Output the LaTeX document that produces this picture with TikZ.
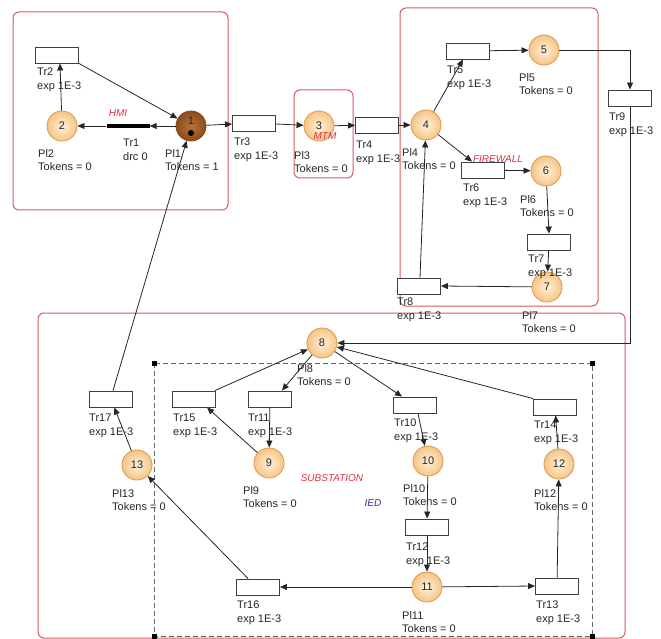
\documentclass[tikz,border=0pt]{standalone}
\usepackage{fontspec}
\setmainfont{Liberation Sans}
\usetikzlibrary{arrows.meta}
\definecolor{boxred}{HTML}{D65A5E}
\definecolor{zred}{HTML}{E0303F}
\definecolor{zblue}{HTML}{3030A0}
\definecolor{placein}{HTML}{FFF1DA}
\definecolor{placeout}{HTML}{F6C486}
\definecolor{placeborder}{HTML}{DC9E50}
\definecolor{darkin}{HTML}{B8733A}
\definecolor{darkout}{HTML}{8A4C1E}
\definecolor{txt}{HTML}{262626}
\begin{document}
\begin{tikzpicture}[x=1pt,y=-1pt,
  place/.style={circle, draw=placeborder, line width=0.9pt, minimum size=30pt, inner sep=0pt,
    inner color=placein, outer color=placeout, font=\fontsize{11}{13}\selectfont, text=txt},
  trans/.style={rectangle, draw=black!75, fill=white, minimum width=43pt, minimum height=16pt,
    inner sep=0pt, line width=0.9pt},
  lbl/.style={anchor=north west, align=left, inner sep=0pt, font=\fontsize{11}{13.5}\selectfont, text=txt},
  arc/.style={-{Triangle[length=7pt,width=6pt]}, line width=0.8pt, draw=black!85},
  zone/.style={draw=boxred, rounded corners=6pt, line width=1pt},
  zlabel/.style={font=\fontsize{10}{12}\selectfont\itshape, text=zred, inner sep=0pt},
  handle/.style={rectangle, fill=black, minimum size=5pt, inner sep=0pt}
]
\useasboundingbox (0,0) rectangle (661,639);

% zones
\draw[zone] (13,12) rectangle (228,210);
\draw[zone] (294,90) rectangle (353,178);
\draw[zone] (400,8) rectangle (598,306);
\draw[zone] (38,313) rectangle (625,638);
\draw[draw=black!60, dashed, dash pattern=on 5pt off 3pt, line width=1pt] (154,363) rectangle (592,636);
\node[handle] (h1) at (154,363) {};
\node[handle] (h2) at (592,363) {};
\node[handle] (h3) at (154,636) {};
\node[handle] (h4) at (592,636) {};

% zone labels
\node[zlabel] (zhmi) at (118,113) {HMI};
\node[zlabel] (zsub) at (332,478) {SUBSTATION};
\node[zlabel, text=zblue] (zied) at (373,503) {IED};

% places
\node[place, inner color=darkin, outer color=darkout, draw=darkout] (p1) at (191,126) {};
\node[text=txt, font=\fontsize{11}{13}\selectfont, inner sep=0pt] (n1) at (191,121) {1};
\fill[black] (191,133) circle (3pt);
\node[place] (p2) at (62,126) {2};
\node[place] (p3) at (319,126) {3};
\node[place] (p4) at (426,125) {4};
\node[place] (p5) at (544,50) {5};
\node[place] (p6) at (546,171) {6};
\node[place] (p7) at (547,287) {7};
\node[place] (p8) at (322,343) {8};
\node[place] (p9) at (269,463) {9};
\node[place] (p10) at (428,461) {10};
\node[place] (p11) at (427,587) {11};
\node[place] (p12) at (559,464) {12};
\node[place] (p13) at (137,465) {13};

\node[zlabel] (zmtm) at (325,136) {MTM};
\node[zlabel] (zfw) at (498,159) {FIREWALL};

% transitions
\node[rectangle, fill=black, minimum width=43pt, minimum height=4.5pt, inner sep=0pt] (t1) at (128,126) {};
\node[trans] (t2) at (57,55) {};
\node[trans] (t3) at (254,123) {};
\node[trans] (t4) at (377,125) {};
\node[trans] (t5) at (468,51) {};
\node[trans] (t6) at (483,170) {};
\node[trans] (t7) at (549,242) {};
\node[trans] (t8) at (419,286) {};
\node[trans] (t9) at (630,98) {};
\node[trans] (t10) at (415,405) {};
\node[trans] (t11) at (270,399) {};
\node[trans] (t12) at (427,527) {};
\node[trans] (t13) at (557,586) {};
\node[trans] (t14) at (555,407) {};
\node[trans] (t15) at (194,399) {};
\node[trans] (t16) at (258,587) {};
\node[trans] (t17) at (111,399) {};

% labels
\node[lbl] (l1) at (123,139) {Tr1\\drc 0};
\node[lbl] (l2) at (37,68) {Tr2\\exp 1E-3};
\node[lbl] (l3) at (234,138) {Tr3\\exp 1E-3};
\node[lbl] (l4) at (356,141) {Tr4\\exp 1E-3};
\node[lbl] (l5) at (447,66) {Tr5\\exp 1E-3};
\node[lbl] (l6) at (463,184) {Tr6\\exp 1E-3};
\node[lbl] (l7) at (528,255) {Tr7\\exp 1E-3};
\node[lbl] (l8) at (397,298) {Tr8\\exp 1E-3};
\node[lbl] (l9) at (609,113) {Tr9\\exp 1E-3};
\node[lbl] (l10) at (394,419) {Tr10\\exp 1E-3};
\node[lbl] (l11) at (248,414) {Tr11\\exp 1E-3};
\node[lbl] (l12) at (406,543) {Tr12\\exp 1E-3};
\node[lbl] (l13) at (536,601) {Tr13\\exp 1E-3};
\node[lbl] (l14) at (534,421) {Tr14\\exp 1E-3};
\node[lbl] (l15) at (173,414) {Tr15\\exp 1E-3};
\node[lbl] (l16) at (237,601) {Tr16\\exp 1E-3};
\node[lbl] (l17) at (89,414) {Tr17\\exp 1E-3};

\node[lbl] (q1) at (165,149) {Pl1\\Tokens = 1};
\node[lbl] (q2) at (38,149) {Pl2\\Tokens = 0};
\node[lbl] (q3) at (294,151) {Pl3\\Tokens = 0};
\node[lbl] (q4) at (402,148) {Pl4\\Tokens = 0};
\node[lbl] (q5) at (519,73) {Pl5\\Tokens = 0};
\node[lbl] (q6) at (520,195) {Pl6\\Tokens = 0};
\node[lbl] (q7) at (522,311) {Pl7\\Tokens = 0};
\node[lbl] (q8) at (297,364) {Pl8\\Tokens = 0};
\node[lbl] (q9) at (243,486) {Pl9\\Tokens = 0};
\node[lbl] (q10) at (403,484) {Pl10\\Tokens = 0};
\node[lbl] (q11) at (402,611) {Pl11\\Tokens = 0};
\node[lbl] (q12) at (534,489) {Pl12\\Tokens = 0};
\node[lbl] (q13) at (112,489) {Pl13\\Tokens = 0};

% arcs: HMI
\draw[arc] (p1) -- (t1.east);
\draw[arc] (t1.west) -- (p2);
\draw[arc] (p2) -- ([xshift=3pt]t2.south);
\draw[arc] (t2.south east) -- (p1);
\draw[arc] (p1) -- (t3);
\draw[arc] (t3) -- (p3);
\draw[arc] (p3) -- (t4);
\draw[arc] (t4) -- (p4);
% firewall
\draw[arc] (p4) -- ([xshift=-5pt]t5.south);
\draw[arc] (t5) -- (p5);
\draw[arc] (p5.east) -| (t9.north);
\draw[arc] (p4) -- ([xshift=-11pt]t6.north);
\draw[arc] (t6) -- (p6);
\draw[arc] (p6) -- (t7.north);
\draw[arc] (t7) -- (p7);
\draw[arc] (p7) -- (t8.east);
\draw[arc] ([xshift=1pt]t8.north) -- (p4);
% substation
\draw[arc] (t9.south) |- (p8.east);
\draw[arc] (p8) -- ([xshift=-13pt]t10.north);
\draw[arc] ([xshift=3pt]t10.south) -- (p10);
\draw[arc] (p10) -- (t12);
\draw[arc] (t12) -- (p11);
\draw[arc] (p11) -- (t13.west);
\draw[arc] (t13) -- (p12);
\draw[arc] (p12) -- (t14);
\draw[arc] (t14.north west) -- (p8);
\draw[arc] (p8) -- ([xshift=-10pt]t11.north east);
\draw[arc] (t11) -- (p9);
\draw[arc] (p9) -- ([xshift=13pt]t15.south);
\draw[arc] ([xshift=-1pt]t15.north east) -- (p8);
\draw[arc] (p11) -- (t16.east);
\draw[arc] ([xshift=12pt]t16.north west) -- (p13);
\draw[arc] (p13) -- (t17);
\draw[arc] ([xshift=2pt]t17.north) -- (p1);
\end{tikzpicture}
\end{document}
